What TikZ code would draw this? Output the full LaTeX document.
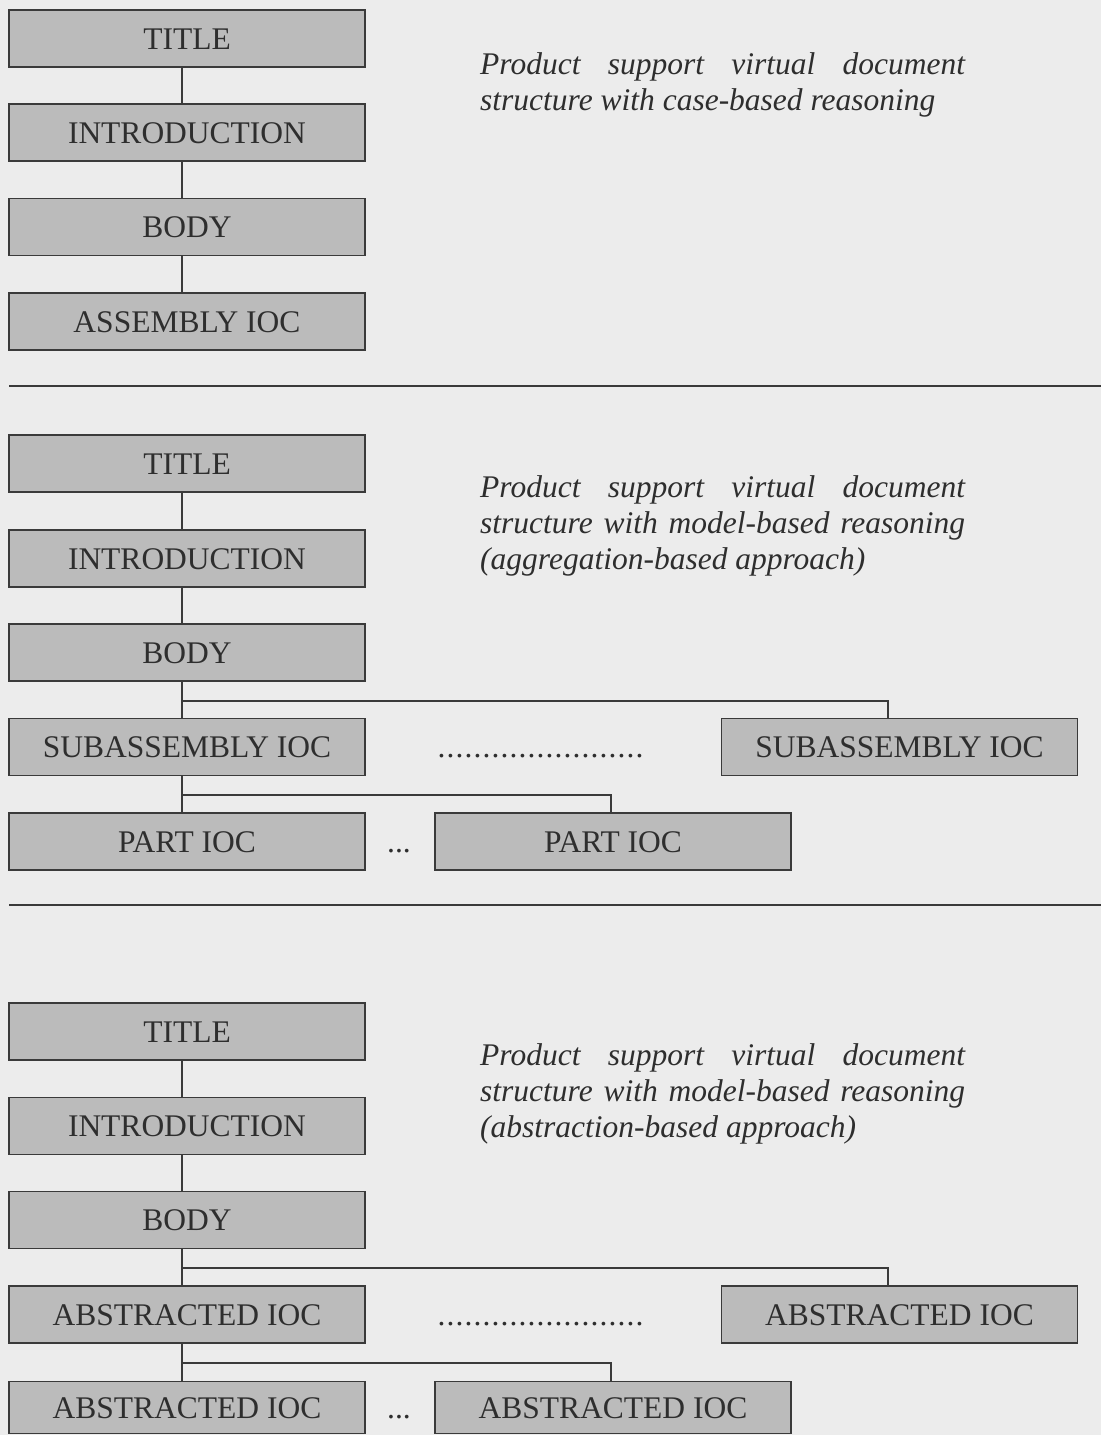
\documentclass[tikz,border=0pt]{standalone}
\usepackage{fontspec}
\setmainfont{Liberation Serif}
\definecolor{paper}{HTML}{ECECEC}
\definecolor{boxfill}{HTML}{BBBBBB}
\definecolor{ink}{HTML}{2E2E2E}
\definecolor{rule}{HTML}{3A3A3A}
\newcommand{\dotrow}{\makebox[211pt]{\cleaders\hbox to 9pt{\hss.\hss}\hfill}}
\begin{document}
\begin{tikzpicture}[x=1pt,y=-1pt,
  docbox/.style={draw=rule,line width=1.8pt,fill=boxfill,text=ink,
    minimum width=356pt,minimum height=57pt,inner sep=0pt,
    font=\fontsize{31.5}{36}\selectfont,text height=21pt,text depth=0pt},
  lastbox/.style={docbox,minimum height=52pt},
  link/.style={draw=rule,line width=1.4pt},
  sep/.style={draw=rule,line width=2.6pt},
  caption/.style={anchor=base west,inner sep=0pt,text=ink,
    font=\fontsize{31.5}{36}\selectfont\itshape},
  gap/.style={inner sep=0pt,text=ink,font=\fontsize{31.5}{36}\selectfont,
    text height=21pt,text depth=0pt}]
% page
\fill[paper] (0,0) rectangle (1101,1435);
\useasboundingbox (0,0) rectangle (1101,1435);
\coordinate (spine) at (182,0);

% ---------- case-based structure ----------
\node[docbox] (a1) at (187,38.5) {TITLE};
\node[docbox] (a2) at (187,132.5) {INTRODUCTION};
\node[docbox] (a3) at (187,227) {BODY};
\node[docbox] (a4) at (187,321.5) {ASSEMBLY IOC};
\foreach \u/\v in {a1/a2,a2/a3,a3/a4}
  \draw[link] (\u.south -| spine) -- (\v.north -| spine);
\node[caption] (ac1) at (480,74) {\makebox[485pt][s]{Product support virtual document}};
\node[caption] (ac2) at (480,110) {structure with case-based reasoning};

\coordinate (r1a) at (9,386);
\coordinate (r1b) at (1101,386);
\draw[sep] (r1a) -- (r1b);

% ---------- aggregation-based structure ----------
\node[docbox] (b1) at (187,463.5) {TITLE};
\node[docbox] (b2) at (187,558.5) {INTRODUCTION};
\node[docbox] (b3) at (187,652.5) {BODY};
\node[docbox] (b4) at (187,747) {SUBASSEMBLY IOC};
\node[docbox] (b4r) at (899.5,747) {SUBASSEMBLY IOC};
\node[docbox] (b5) at (187,841.5) {PART IOC};
\node[docbox] (b5r) at (613,841.5) {PART IOC};
\foreach \u/\v in {b1/b2,b2/b3,b3/b4,b4/b5}
  \draw[link] (\u.south -| spine) -- (\v.north -| spine);
\coordinate (bj1) at (182,701);
\coordinate (bj2) at (182,795);
\draw[link] (bj1) -| ([xshift=-11.5pt]b4r.north);
\draw[link] (bj2) -| ([xshift=-2pt]b5r.north);
\node[gap] (bd1) at (540.5,747) {\dotrow};
\node[gap] (bd2) at (399,841.5) {...};
\node[caption] (bc1) at (480,497) {\makebox[485pt][s]{Product support virtual document}};
\node[caption] (bc2) at (480,533) {\makebox[485pt][s]{structure with model-based reasoning}};
\node[caption] (bc3) at (480,569) {(aggregation-based approach)};

\coordinate (r2a) at (9,905);
\coordinate (r2b) at (1101,905);
\draw[sep] (r2a) -- (r2b);

% ---------- abstraction-based structure ----------
\node[docbox] (c1) at (187,1031.5) {TITLE};
\node[docbox] (c2) at (187,1126) {INTRODUCTION};
\node[docbox] (c3) at (187,1220) {BODY};
\node[docbox] (c4) at (187,1314.5) {ABSTRACTED IOC};
\node[docbox] (c4r) at (899.5,1314.5) {ABSTRACTED IOC};
\node[lastbox] (c5) at (187,1407.5) {ABSTRACTED IOC};
\node[lastbox] (c5r) at (613,1407.5) {ABSTRACTED IOC};
\foreach \u/\v in {c1/c2,c2/c3,c3/c4,c4/c5}
  \draw[link] (\u.south -| spine) -- (\v.north -| spine);
\coordinate (cj1) at (182,1268);
\coordinate (cj2) at (182,1363);
\draw[link] (cj1) -| ([xshift=-11.5pt]c4r.north);
\draw[link] (cj2) -| ([xshift=-2pt]c5r.north);
\node[gap] (cd1) at (540.5,1314.5) {\dotrow};
\node[gap] (cd2) at (399,1407.5) {...};
\node[caption] (cc1) at (480,1065) {\makebox[485pt][s]{Product support virtual document}};
\node[caption] (cc2) at (480,1101) {\makebox[485pt][s]{structure with model-based reasoning}};
\node[caption] (cc3) at (480,1137) {(abstraction-based approach)};
\end{tikzpicture}
\end{document}
